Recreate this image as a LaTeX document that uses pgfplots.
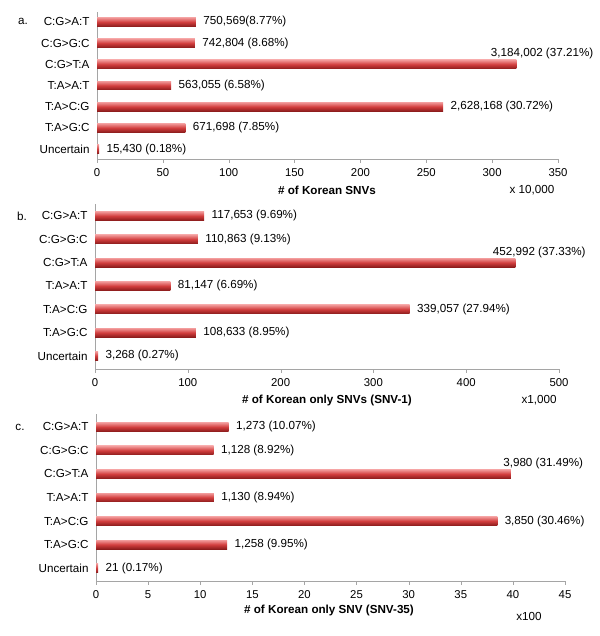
\documentclass[border=0pt]{standalone}
\usepackage{pgfplots}
\pgfplotsset{compat=1.18}
\usepackage{fontspec}
\setmainfont{Liberation Sans}
\definecolor{barTop}{RGB}{242,155,155}
\definecolor{barMid}{RGB}{210,62,62}
\definecolor{barBot}{RGB}{140,28,28}
\definecolor{axgray}{RGB}{165,165,165}
\newcommand{\fs}{\fontsize{11.7}{13}\selectfont}
\newcommand{\fl}{\fontsize{11.7}{13}\selectfont}
\pgfplotsset{
  panel/.style={
    scale only axis, anchor=south west,
    xbar, bar width=9pt, bar shift=0pt,
    ytick={0,...,6},
    yticklabels={Uncertain,T:A>G:C,T:A>C:G,T:A>A:T,C:G>T:A,C:G>G:C,C:G>A:T},
    axis x line*=bottom, axis y line*=left,
    axis line style={axgray},
    ytick style={draw=none},
    xtick style={axgray},
    major tick length=4pt,
    tick align=outside,
    xmin=0,
    xticklabel style={font=\fontsize{11.4}{12}\selectfont, yshift=-2pt},
    yticklabel style={font=\fl, xshift=0pt},
    /pgf/number format/assume math mode=true,
    nodes near coords, point meta=explicit symbolic,
    every node near coord/.append style={font=\fs, black, anchor=west, xshift=4pt},
    clip=false,
  },
  mybar/.style={draw=none, top color=barTop, bottom color=barBot, middle color=barMid},
  toplab/.style={every node near coord/.append style={anchor=south west, xshift=#1, yshift=1.5bp}},
}
\newcommand{\onebar}[3]{\addplot[mybar] coordinates {(#1,#2) [#3]};}
\newcommand{\topbar}[4]{\addplot[mybar, toplab=#4] coordinates {(#1,#2) [#3]};}
\begin{document}
\begin{tikzpicture}
\path[use as bounding box] (0,0) rectangle (600bp,636bp);
% panel a
\begin{axis}[panel, at={(97bp,477bp)}, width=461bp, height=147bp,
  xmax=350, xtick={0,50,...,350}, ymin=-0.47, ymax=6.47]
\onebar{75.0569}{6}{750,569(8.77\%)}
\onebar{74.2804}{5}{742,804 (8.68\%)}
\topbar{318.4002}{4}{3,184,002 (37.21\%)}{-33bp}
\onebar{56.3055}{3}{563,055 (6.58\%)}
\onebar{262.8168}{2}{2,628,168 (30.72\%)}
\onebar{67.1698}{1}{671,698 (7.85\%)}
\onebar{1.543}{0}{15,430 (0.18\%)}
\end{axis}
% panel b
\begin{axis}[panel, at={(95bp,267bp)}, width=464bp, height=165bp,
  xmax=500, xtick={0,100,...,500}, ymin=-0.56, ymax=6.51]
\onebar{117.653}{6}{117,653 (9.69\%)}
\onebar{110.863}{5}{110,863 (9.13\%)}
\topbar{452.992}{4}{452,992 (37.33\%)}{-30bp}
\onebar{81.147}{3}{81,147 (6.69\%)}
\onebar{339.057}{2}{339,057 (27.94\%)}
\onebar{108.633}{1}{108,633 (8.95\%)}
\onebar{3.268}{0}{3,268 (0.27\%)}
\end{axis}
% panel c
\begin{axis}[panel, at={(96bp,55bp)}, width=469bp, height=167bp,
  xmax=45, xtick={0,5,...,45}, ymin=-0.55, ymax=6.55]
\onebar{12.73}{6}{1,273 (10.07\%)}
\onebar{11.28}{5}{1,128 (8.92\%)}
\topbar{39.80}{4}{3,980 (31.49\%)}{-15bp}
\onebar{11.30}{3}{1,130 (8.94\%)}
\onebar{38.50}{2}{3,850 (30.46\%)}
\onebar{12.58}{1}{1,258 (9.95\%)}
\onebar{0.21}{0}{21 (0.17\%)}
\end{axis}
\begin{scope}[every node/.style={font=\fl, inner sep=0pt}]
\node at (23bp,615bp) {a.};
\node at (22bp,420bp) {b.};
\node at (20bp,209bp) {c.};
\node[font=\fl\bfseries] at (327bp,446bp) {\# of Korean SNVs};
\node[font=\fs] at (532bp,446bp) {x 10,000};
\node[font=\fl\bfseries] at (327bp,236bp) {\# of Korean only SNVs (SNV-1)};
\node[font=\fs] at (539bp,236bp) {x1,000};
\node[font=\fl\bfseries] at (329bp,26bp) {\# of Korean only SNV (SNV-35)};
\node[font=\fs] at (529bp,20bp) {x100};
\end{scope}
\end{tikzpicture}
\end{document}
